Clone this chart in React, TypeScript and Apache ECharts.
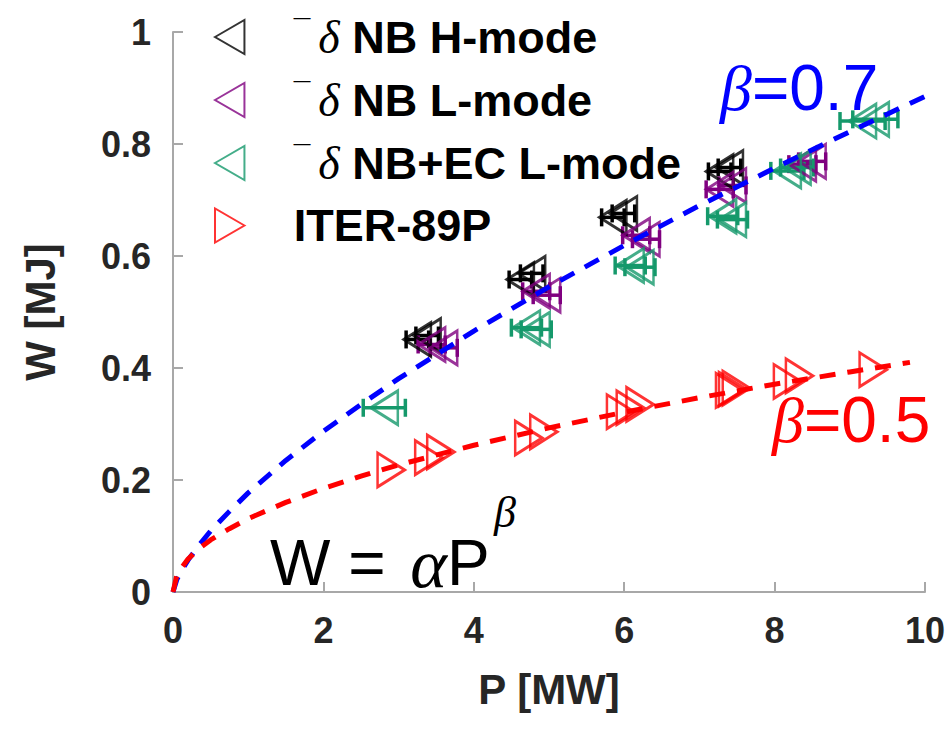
import React, { useEffect, useRef } from "react";
import * as echarts from "echarts";

// ---- data ----
const hModeP = [3.25, 3.38, 4.62, 4.77, 5.85, 5.99, 7.27, 7.4];
const hModeW = [0.451, 0.458, 0.558, 0.569, 0.669, 0.676, 0.751, 0.758];
const hModeErr = [0.15, 0.15, 0.15, 0.15, 0.15, 0.15, 0.15, 0.15];

const lModeP = [3.44, 3.6, 4.83, 4.97, 6.16, 6.29, 7.27, 7.44, 8.37, 8.5];
const lModeW = [0.442, 0.436, 0.537, 0.53, 0.637, 0.63, 0.719, 0.726, 0.764, 0.769];
const lModeErr = [0.18, 0.18, 0.18, 0.18, 0.18, 0.18, 0.18, 0.18, 0.18, 0.18];

const ecP = [2.81, 4.7, 4.83, 6.08, 6.21, 7.31, 7.44, 8.17, 8.3, 9.17, 9.34];
const ecW = [0.329, 0.472, 0.469, 0.583, 0.58, 0.671, 0.665, 0.752, 0.758, 0.841, 0.844];
const ecErr = [0.28, 0.2, 0.2, 0.2, 0.2, 0.2, 0.2, 0.22, 0.22, 0.3, 0.3];

const iterP = [2.9, 3.4, 3.56, 4.73, 4.93, 5.95, 6.08, 6.21, 7.4, 7.44, 7.49, 8.17, 8.33, 9.31];
const iterW = [0.218, 0.24, 0.25, 0.275, 0.286, 0.322, 0.329, 0.335, 0.36, 0.362, 0.364, 0.376, 0.386, 0.397];

const fit07P = [0, 0.05, 0.1, 0.2, 0.35, 0.5, 0.75, 1, 1.5, 2, 2.5, 3, 4, 5, 6, 7, 8, 9, 10];
const fit07W = [0, 0.022, 0.035, 0.057, 0.084, 0.109, 0.144, 0.177, 0.235, 0.287, 0.335, 0.381, 0.466, 0.545, 0.619, 0.69, 0.757, 0.822, 0.885];

const fit05P = [0, 0.05, 0.1, 0.2, 0.35, 0.5, 0.75, 1, 1.5, 2, 2.5, 3, 4, 5, 6, 7, 8, 9, 9.8];
const fit05W = [0, 0.029, 0.041, 0.059, 0.078, 0.093, 0.113, 0.131, 0.16, 0.185, 0.207, 0.227, 0.262, 0.293, 0.321, 0.347, 0.371, 0.393, 0.41];

const names = ["NB H-mode", "NB L-mode", "NB+EC L-mode", "ITER-89P"];

const xTicks = { min: 0, max: 10, interval: 2 };
const yTicks = { min: 0, max: 1, interval: 0.2 };

const C_BLACK = "#000000";
const C_PURPLE = "#800080";
const C_GREEN = "#15996b";
const C_RED = "#ff0000";
const AXIS = "#a8a8a8";
const TXT = "#262626";

const TRI_LEFT = "path://M0,50 L86.6,0 L86.6,100 Z";
const TRI_RIGHT = "path://M86.6,50 L0,0 L0,100 Z";

const zip = (a: number[], b: number[]) => a.map((v, i) => [v, b[i]]);
const zip3 = (a: number[], b: number[], c: number[]) => a.map((v, i) => [v, b[i], c[i]]);

function errSeries(data: number[][], color: string) {
  return {
    type: "custom",
    data,
    z: 3,
    silent: true,
    renderItem: (params: any, api: any) => {
      const p = api.value(0);
      const w = api.value(1);
      const e = api.value(2);
      const l = api.coord([p - e, w]);
      const r = api.coord([p + e, w]);
      const cap = 9;
      const st = { stroke: color, lineWidth: 3.5 };
      return {
        type: "group",
        children: [
          { type: "line", shape: { x1: l[0], y1: l[1], x2: r[0], y2: r[1] }, style: st },
          { type: "line", shape: { x1: l[0], y1: l[1] - cap, x2: l[0], y2: l[1] + cap }, style: st },
          { type: "line", shape: { x1: r[0], y1: r[1] - cap, x2: r[0], y2: r[1] + cap }, style: st },
        ],
      };
    },
  };
}

function markerSeries(name: string, data: number[][], color: string, sym: string) {
  return {
    name,
    type: "scatter",
    data,
    z: 4,
    symbol: sym,
    symbolKeepAspect: false,
    symbolSize: [27, 34],
    itemStyle: { color: "rgba(255,255,255,0)", borderColor: color, borderWidth: 2.8 },
  };
}

export default function App() {
  const ref = useRef<HTMLDivElement>(null);
  useEffect(() => {
    if (!ref.current) return;
    const chart = echarts.init(ref.current, undefined, { renderer: "svg" });
    const bold = { fontFamily: "Liberation Sans", fontWeight: "bold" as const, color: TXT };
    chart.setOption({
      animation: false,
      backgroundColor: "#ffffff",
      grid: { left: 173, right: 19, top: 32, bottom: 146, containLabel: false },
      xAxis: {
        type: "value",
        ...xTicks,
        axisLine: { lineStyle: { color: AXIS, width: 2 } },
        axisTick: { inside: true, length: 10, lineStyle: { color: AXIS, width: 2 } },
        axisLabel: { ...bold, fontSize: 36, margin: 20 },
        splitLine: { show: false },
        name: "P [MW]",
        nameLocation: "middle",
        nameGap: 76,
        nameTextStyle: { ...bold, fontSize: 42 },
      },
      yAxis: {
        type: "value",
        ...yTicks,
        axisLine: { show: true, lineStyle: { color: AXIS, width: 2 } },
        axisTick: { show: true, inside: true, length: 10, lineStyle: { color: AXIS, width: 2 } },
        axisLabel: { ...bold, fontSize: 36, margin: 22 },
        splitLine: { show: false },
        name: "W [MJ]",
        nameLocation: "middle",
        nameGap: 112,
        nameTextStyle: { ...bold, fontSize: 42 },
      },
      legend: {
        orient: "vertical",
        left: 209,
        top: 9,
        itemWidth: 30,
        itemHeight: 34,
        itemGap: 17,
        data: [
          { name: names[0], icon: TRI_LEFT },
          { name: names[1], icon: TRI_LEFT },
          { name: names[2], icon: TRI_LEFT },
          { name: names[3], icon: TRI_RIGHT },
        ],
        selectedMode: false,
        formatter: (n: string) =>
          n === "ITER-89P" ? `{b|${n}}` : `{m|\u00AF}{d|\u03B4}{b| ${n}}`,
        textStyle: {
          padding: [0, 0, 0, 44],
          rich: {
            m: { fontFamily: "Liberation Sans", fontSize: 30, color: "#000", verticalAlign: "top", lineHeight: 46, padding: [0, 8, 0, 0] },
            d: { fontFamily: "Liberation Serif", fontStyle: "italic", fontSize: 46, color: "#000", lineHeight: 46 },
            b: { fontFamily: "Liberation Sans", fontWeight: "bold", fontSize: 45, color: "#000", lineHeight: 46 },
          },
        },
      },
      graphic: [
        {
          type: "text",
          left: 720,
          top: 56,
          style: {
            text: "{g|\u03B2}{n|=0.7}",
            rich: {
              g: { fontFamily: "Liberation Serif", fontStyle: "italic", fontSize: 64, fill: "#0000ff" },
              n: { fontFamily: "Liberation Sans", fontSize: 64, fill: "#0000ff" },
            },
          },
        },
        {
          type: "text",
          left: 772,
          top: 388,
          style: {
            text: "{g|\u03B2}{n|=0.5}",
            rich: {
              g: { fontFamily: "Liberation Serif", fontStyle: "italic", fontSize: 64, fill: "#ff0000" },
              n: { fontFamily: "Liberation Sans", fontSize: 64, fill: "#ff0000" },
            },
          },
        },
        {
          type: "text",
          left: 270,
          top: 528,
          style: {
            text: "{w|W = }{a|\u03B1}{w|P}",
            rich: {
              w: { fontFamily: "Liberation Sans", fontSize: 64, fill: "#000" },
              a: { fontFamily: "Liberation Serif", fontStyle: "italic", fontSize: 70, fill: "#000", padding: [0, 0, 0, 7] },
            },
          },
        },
        {
          type: "text",
          left: 494,
          top: 490,
          style: { text: "\u03B2", fontFamily: "Liberation Serif", fontStyle: "italic", fontSize: 44, fill: "#000" },
        },
      ],
      series: [
        errSeries(zip3(hModeP, hModeW, hModeErr), C_BLACK),
        errSeries(zip3(lModeP, lModeW, lModeErr), C_PURPLE),
        errSeries(zip3(ecP, ecW, ecErr), C_GREEN),
        markerSeries(names[0], zip(hModeP, hModeW), C_BLACK, TRI_LEFT),
        markerSeries(names[1], zip(lModeP, lModeW), C_PURPLE, TRI_LEFT),
        markerSeries(names[2], zip(ecP, ecW), C_GREEN, TRI_LEFT),
        markerSeries(names[3], zip(iterP, iterW), C_RED, TRI_RIGHT),
        {
          type: "line",
          data: zip(fit07P, fit07W),
          smooth: false,
          showSymbol: false,
          z: 5,
          silent: true,
          lineStyle: { color: "#0000ff", width: 5, type: [16, 12] },
        },
        {
          type: "line",
          data: zip(fit05P, fit05W),
          smooth: false,
          showSymbol: false,
          z: 5,
          silent: true,
          lineStyle: { color: "#ff0000", width: 5, type: [16, 12] },
        },
      ],
    });
    return () => chart.dispose();
  }, []);
  return <div ref={ref} style={{ width: 948, height: 738, position: "absolute", left: 0, top: 0 }} />;
}
